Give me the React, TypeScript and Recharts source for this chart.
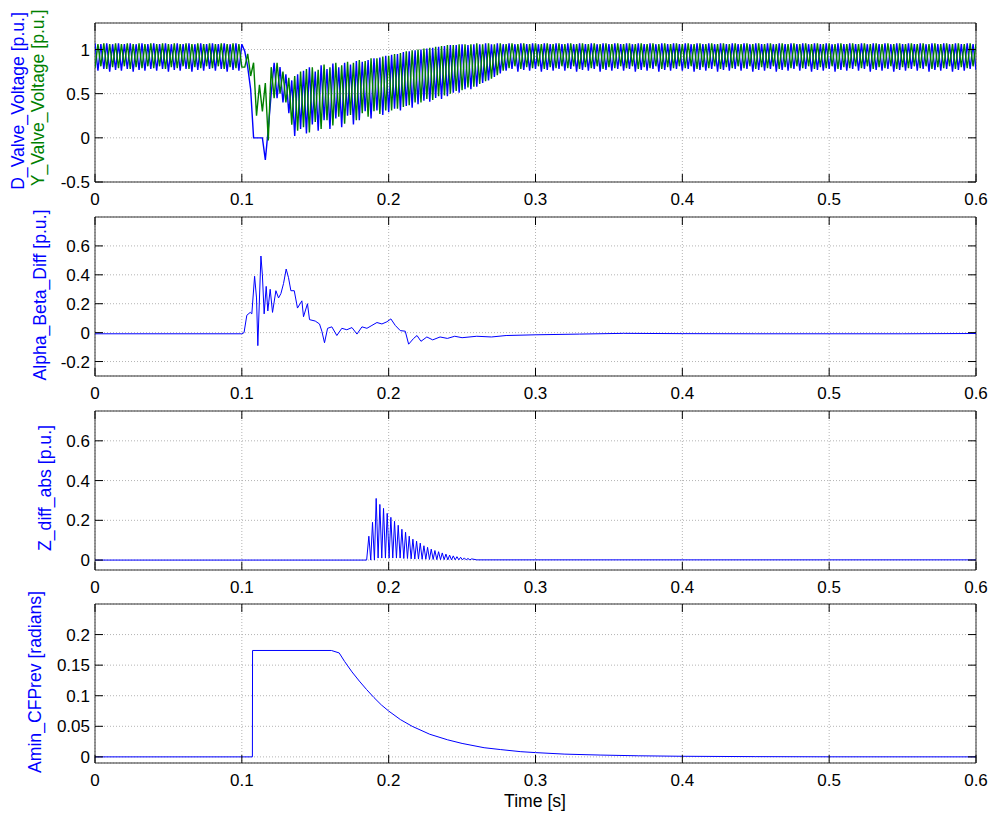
import React from 'react';
import { LineChart, Line, XAxis, YAxis, CartesianGrid, ReferenceArea } from 'recharts';

// ---- data ----
const X_TICKS = [0, 0.1, 0.2, 0.3, 0.4, 0.5, 0.6];

// valve voltages, one sample every 2 ms from t = 0
const VALVE_DT = 0.002;
const D_VALVE = [
  1.07, 0.76, 1.06, 0.78, 1.07, 0.75, 1.06, 0.77, 1.07, 0.76,
  1.06, 0.78, 1.07, 0.75, 1.06, 0.77, 1.07, 0.76, 1.06, 0.78,
  1.07, 0.76, 1.06, 0.78, 1.07, 0.75, 1.06, 0.77, 1.07, 0.76,
  1.06, 0.78, 1.07, 0.75, 1.06, 0.77, 1.07, 0.76, 1.06, 0.78,
  1.07, 0.76, 1.06, 0.78, 1.07, 0.75, 1.06, 0.77, 1.07, 0.76,
  1.06, 0.98, 0.8, 0.55, 0.0, 0.0, 0.0, 0.0, -0.25, 0.1,
  0.5, 0.85, 0.45, 0.8, 0.4, 0.72, 0.28, 0.65, 0.02, 0.72,
  0.1, 0.76, 0.05, 0.8, 0.15, 0.75, 0.08, 0.82, 0.2, 0.78,
  0.1, 0.84, 0.22, 0.8, 0.12, 0.85, 0.25, 0.83, 0.15, 0.87,
  0.2, 0.86, 0.3, 0.88, 0.22, 0.9, 0.31, 0.91, 0.26, 0.93,
  0.29, 0.94, 0.33, 0.95, 0.31, 0.97, 0.36, 0.98, 0.34, 0.99,
  0.38, 1.0, 0.42, 1.01, 0.41, 1.02, 0.45, 1.03, 0.44, 1.04,
  0.47, 1.05, 0.51, 1.05, 0.51, 1.06, 0.55, 1.05, 0.55, 1.06,
  0.58, 1.06, 0.62, 1.07, 0.65, 1.06, 0.69, 1.07, 0.73, 1.06,
  0.76, 1.07, 0.78, 1.06, 0.75, 1.07, 0.77, 1.06, 0.76, 1.07,
  0.78, 1.06, 0.75, 1.07, 0.77, 1.06, 0.76, 1.07, 0.78, 1.06,
  0.76, 1.07, 0.78, 1.06, 0.75, 1.07, 0.77, 1.06, 0.76, 1.07,
  0.78, 1.06, 0.75, 1.07, 0.77, 1.06, 0.76, 1.07, 0.78, 1.06,
  0.76, 1.07, 0.78, 1.06, 0.75, 1.07, 0.77, 1.06, 0.76, 1.07,
  0.78, 1.06, 0.75, 1.07, 0.77, 1.06, 0.76, 1.07, 0.78, 1.06,
  0.76, 1.07, 0.78, 1.06, 0.75, 1.07, 0.77, 1.06, 0.76, 1.07,
  0.78, 1.06, 0.75, 1.07, 0.77, 1.06, 0.76, 1.07, 0.78, 1.06,
  0.76, 1.07, 0.78, 1.06, 0.75, 1.07, 0.77, 1.06, 0.76, 1.07,
  0.78, 1.06, 0.75, 1.07, 0.77, 1.06, 0.76, 1.07, 0.78, 1.06,
  0.76, 1.07, 0.78, 1.06, 0.75, 1.07, 0.77, 1.06, 0.76, 1.07,
  0.78, 1.06, 0.75, 1.07, 0.77, 1.06, 0.76, 1.07, 0.78, 1.06,
  0.76, 1.07, 0.78, 1.06, 0.75, 1.07, 0.77, 1.06, 0.76, 1.07,
  0.78, 1.06, 0.75, 1.07, 0.77, 1.06, 0.76, 1.07, 0.78, 1.06,
  0.76, 1.07, 0.78, 1.06, 0.75, 1.07, 0.77, 1.06, 0.76, 1.07,
  0.78, 1.06, 0.75, 1.07, 0.77, 1.06, 0.76, 1.07, 0.78, 1.06,
  0.77,
];
const Y_VALVE = [
  0.79, 1.06, 0.81, 1.07, 0.78, 1.06, 0.8, 1.07, 0.79, 1.06,
  0.81, 1.07, 0.78, 1.06, 0.8, 1.07, 0.79, 1.06, 0.81, 1.07,
  0.79, 1.06, 0.81, 1.07, 0.78, 1.06, 0.8, 1.07, 0.79, 1.06,
  0.81, 1.07, 0.78, 1.06, 0.8, 1.07, 0.79, 1.06, 0.81, 1.07,
  0.79, 1.06, 0.81, 1.07, 0.78, 1.06, 0.8, 1.07, 0.79, 1.06,
  0.8, 0.8, 0.95, 0.7, 0.85, 0.25, 0.6, 0.3, 0.62, -0.03,
  0.8, 0.45, 0.85, 0.5, 0.75, 0.4, 0.68, 0.15, 0.7, 0.08,
  0.75, 0.12, 0.78, 0.06, 0.8, 0.18, 0.77, 0.1, 0.83, 0.2,
  0.8, 0.14, 0.85, 0.24, 0.82, 0.16, 0.86, 0.26, 0.85, 0.2,
  0.88, 0.28, 0.87, 0.24, 0.9, 0.3, 0.9, 0.27, 0.92, 0.31,
  0.93, 0.31, 0.95, 0.33, 0.96, 0.35, 0.98, 0.37, 0.99, 0.4,
  1.0, 0.4, 1.01, 0.44, 1.02, 0.43, 1.03, 0.47, 1.04, 0.48,
  1.05, 0.5, 1.05, 0.53, 1.06, 0.54, 1.06, 0.57, 1.06, 0.58,
  1.07, 0.61, 1.06, 0.64, 1.07, 0.67, 1.06, 0.71, 1.07, 0.76,
  1.06, 0.79, 1.07, 0.81, 1.06, 0.78, 1.07, 0.8, 1.06, 0.79,
  1.07, 0.81, 1.06, 0.78, 1.07, 0.8, 1.06, 0.79, 1.07, 0.81,
  1.06, 0.79, 1.07, 0.81, 1.06, 0.78, 1.07, 0.8, 1.06, 0.79,
  1.07, 0.81, 1.06, 0.78, 1.07, 0.8, 1.06, 0.79, 1.07, 0.81,
  1.06, 0.79, 1.07, 0.81, 1.06, 0.78, 1.07, 0.8, 1.06, 0.79,
  1.07, 0.81, 1.06, 0.78, 1.07, 0.8, 1.06, 0.79, 1.07, 0.81,
  1.06, 0.79, 1.07, 0.81, 1.06, 0.78, 1.07, 0.8, 1.06, 0.79,
  1.07, 0.81, 1.06, 0.78, 1.07, 0.8, 1.06, 0.79, 1.07, 0.81,
  1.06, 0.79, 1.07, 0.81, 1.06, 0.78, 1.07, 0.8, 1.06, 0.79,
  1.07, 0.81, 1.06, 0.78, 1.07, 0.8, 1.06, 0.79, 1.07, 0.81,
  1.06, 0.79, 1.07, 0.81, 1.06, 0.78, 1.07, 0.8, 1.06, 0.79,
  1.07, 0.81, 1.06, 0.78, 1.07, 0.8, 1.06, 0.79, 1.07, 0.81,
  1.06, 0.79, 1.07, 0.81, 1.06, 0.78, 1.07, 0.8, 1.06, 0.79,
  1.07, 0.81, 1.06, 0.78, 1.07, 0.8, 1.06, 0.79, 1.07, 0.81,
  1.06, 0.79, 1.07, 0.81, 1.06, 0.78, 1.07, 0.8, 1.06, 0.79,
  1.07, 0.81, 1.06, 0.78, 1.07, 0.8, 1.06, 0.79, 1.07, 0.81,
  1.06,
];

const AB_T = [
  0, 0.1, 0.1015, 0.1034, 0.1057, 0.1068, 0.1087, 0.11, 0.1109, 0.113,
  0.114, 0.1152, 0.1166, 0.1177, 0.1193, 0.1209, 0.1232, 0.125, 0.1266, 0.1284,
  0.1302, 0.1318, 0.1334, 0.1357, 0.1379, 0.1409, 0.142, 0.1447, 0.1461, 0.15,
  0.1529, 0.1545, 0.1563, 0.1584, 0.1613, 0.1647, 0.1681, 0.1715, 0.175, 0.1784,
  0.1818, 0.1852, 0.1886, 0.192, 0.1954, 0.1988, 0.2015, 0.2045, 0.2079, 0.2113,
  0.2136, 0.217, 0.2193, 0.222, 0.226, 0.23, 0.235, 0.24, 0.245, 0.25,
  0.26, 0.27, 0.28, 0.3, 0.33, 0.36, 0.4, 0.45, 0.5, 0.55,
  0.6,
];
const AB_V = [
  -0.008, -0.008, 0.0, 0.12, 0.14, 0.13, 0.39, 0.24, -0.09, 0.53,
  0.4, 0.13, 0.32, 0.15, 0.3, 0.14, 0.29, 0.24, 0.27, 0.34,
  0.44, 0.38, 0.29, 0.29, 0.17, 0.22, 0.11, 0.2, 0.09, 0.08,
  0.06, 0.01, -0.07, 0.03, 0.04, -0.02, 0.03, 0.02, 0.035, -0.01,
  0.04, 0.03, 0.05, 0.07, 0.06, 0.075, 0.095, 0.05, 0.014, 0.01,
  -0.08, -0.04, -0.02, -0.06, -0.03, -0.05, -0.03, -0.04, -0.025, -0.035,
  -0.025, -0.03, -0.02, -0.015, -0.01, -0.005, -0.007, -0.008, -0.008, -0.008,
  -0.006,
];

// Z_diff_abs: peaks and the dips back to zero between them
const Z_T = [
  0, 0.185, 0.1865, 0.1878, 0.189, 0.1903, 0.1915, 0.1928, 0.194, 0.1953,
  0.1965, 0.1978, 0.199, 0.2003, 0.2015, 0.2028, 0.204, 0.2053, 0.2065, 0.2078,
  0.209, 0.2103, 0.2115, 0.2128, 0.214, 0.2153, 0.2165, 0.2178, 0.219, 0.2203,
  0.2215, 0.2228, 0.224, 0.2253, 0.2265, 0.2278, 0.229, 0.2303, 0.2315, 0.2328,
  0.234, 0.2353, 0.2365, 0.2378, 0.239, 0.2403, 0.2415, 0.2428, 0.244, 0.2453,
  0.2465, 0.2478, 0.249, 0.2503, 0.2515, 0.2528, 0.254, 0.2553, 0.2565, 0.26,
  0.6,
];
const Z_V = [
  0, 0, 0.12, 0, 0.19, 0, 0.31, 0.01, 0.28, 0.01,
  0.26, 0.01, 0.235, 0.01, 0.215, 0.01, 0.195, 0.01, 0.175, 0.01,
  0.155, 0.008, 0.14, 0.008, 0.12, 0.006, 0.105, 0.005, 0.095, 0.005,
  0.085, 0.004, 0.072, 0.004, 0.064, 0.003, 0.055, 0.003, 0.048, 0.002,
  0.042, 0.002, 0.036, 0.002, 0.03, 0.001, 0.025, 0.001, 0.021, 0.001,
  0.017, 0.001, 0.014, 0.001, 0.011, 0.001, 0.008, 0.001, 0.006, 0.001,
  0.001,
];

const AMIN_T = [
  0, 0.1072, 0.1073, 0.161, 0.1663, 0.17, 0.175, 0.18, 0.185, 0.19,
  0.195, 0.2, 0.208, 0.216, 0.228, 0.24, 0.25, 0.265, 0.276, 0.29,
  0.3, 0.32, 0.344, 0.37, 0.4, 0.45, 0.5, 0.6,
];
const AMIN_V = [
  0, 0, 0.174, 0.174, 0.17, 0.156, 0.139, 0.124, 0.11, 0.097,
  0.085, 0.075, 0.061, 0.05, 0.037, 0.028, 0.022, 0.015, 0.012, 0.0085,
  0.007, 0.0045, 0.003, 0.0018, 0.001, 0.0004, 0.0001, 0,
];

// ---- layout ----
const W = 992;
const PLOT_LEFT = 95;
const RIGHT_M = 16;
const PLOT_RIGHT = W - RIGHT_M;
const PLOT_H = 159;
const M_TOP = 10;
const X_AXIS_H = 40;
const TICK_LEN = 8;
const TICK_FS = 17;
const FONT = '"Liberation Sans", Arial, Helvetica, sans-serif';
const BLUE = '#0000ff';
const GREEN = '#008000';

const valveData = D_VALVE.map((d, i) => ({ t: +(i * VALVE_DT).toFixed(4), d, y: Y_VALVE[i] }));
const abData = AB_T.map((t, i) => ({ t, v: AB_V[i] }));
const zData = Z_T.map((t, i) => ({ t, v: Z_V[i] }));
const aminData = AMIN_T.map((t, i) => ({ t, v: AMIN_V[i] }));

const renderXTick = (props: any) => {
  const { x, payload } = props;
  const bottom = M_TOP + PLOT_H;
  return (
    <g>
      <line x1={x} x2={x} y1={bottom} y2={bottom - TICK_LEN} stroke="#000" />
      <line x1={x} x2={x} y1={M_TOP} y2={M_TOP + TICK_LEN} stroke="#000" />
      <text x={x} y={bottom + 22.5} textAnchor="middle" fontSize={TICK_FS} fontFamily={FONT} fill="#000">
        {String(payload.value)}
      </text>
    </g>
  );
};

const renderYTick = (props: any) => {
  const { y, payload } = props;
  return (
    <g>
      <line x1={PLOT_LEFT} x2={PLOT_LEFT + TICK_LEN} y1={y} y2={y} stroke="#000" />
      <line x1={PLOT_RIGHT - TICK_LEN} x2={PLOT_RIGHT} y1={y} y2={y} stroke="#000" />
      <text x={PLOT_LEFT - 5} y={y + 6} textAnchor="end" fontSize={TICK_FS} fontFamily={FONT} fill="#000">
        {String(payload.value)}
      </text>
    </g>
  );
};

interface PanelProps {
  top: number;
  data: any[];
  keys: { key: string; color: string; width?: number }[];
  domain: [number, number];
  ticks: number[];
}

function Panel({ top, data, keys, domain, ticks }: PanelProps) {
  return (
    <div style={{ position: 'absolute', left: 0, top: top - M_TOP }}>
      <LineChart
        width={W}
        height={PLOT_H + M_TOP + X_AXIS_H}
        data={data}
        margin={{ top: M_TOP, right: RIGHT_M, bottom: 0, left: 0 }}
      >
        <CartesianGrid stroke="#b4b4b4" strokeDasharray="1 2" />
        <XAxis
          dataKey="t"
          type="number"
          domain={[0, 0.6]}
          ticks={X_TICKS}
          interval={0}
          height={X_AXIS_H}
          axisLine={false}
          tickLine={false}
          tick={renderXTick}
          allowDataOverflow
        />
        <YAxis
          type="number"
          domain={domain}
          ticks={ticks}
          interval={0}
          width={PLOT_LEFT}
          axisLine={false}
          tickLine={false}
          tick={renderYTick}
          allowDataOverflow
        />
        {keys.map((k) => (
          <Line
            key={k.key}
            dataKey={k.key}
            type="linear"
            stroke={k.color}
            strokeWidth={k.width ?? 1}
            dot={false}
            isAnimationActive={false}
          />
        ))}
        <ReferenceArea x1={0} x2={0.6} y1={domain[0]} y2={domain[1]} fill="none" stroke="#333" strokeWidth={1} ifOverflow="visible" />
      </LineChart>
    </div>
  );
}

export default function App() {
  return (
    <div style={{ position: 'absolute', left: 0, top: 0, width: W, height: 814, background: '#fff', fontFamily: FONT }}>
      <Panel
        top={23}
        data={valveData}
        keys={[{ key: 'd', color: BLUE, width: 1.4 }, { key: 'y', color: GREEN, width: 1.4 }]}
        domain={[-0.5, 1.3]}
        ticks={[-0.5, 0, 0.5, 1]}
      />
      <Panel top={217} data={abData} keys={[{ key: 'v', color: BLUE }]} domain={[-0.3, 0.8]} ticks={[-0.2, 0, 0.2, 0.4, 0.6]} />
      <Panel top={411} data={zData} keys={[{ key: 'v', color: BLUE }]} domain={[-0.05, 0.75]} ticks={[0, 0.2, 0.4, 0.6]} />
      <Panel top={604} data={aminData} keys={[{ key: 'v', color: BLUE }]} domain={[-0.01, 0.25]} ticks={[0, 0.05, 0.1, 0.15, 0.2]} />
      <svg width={W} height={814} style={{ position: 'absolute', left: 0, top: 0, pointerEvents: 'none' }}>
        <g fontFamily={FONT} fontSize={17.6} textAnchor="middle">
          <text x={24} y={101} transform="rotate(-90 24 101)" fill={BLUE}>D_Valve_Voltage [p.u.]</text>
          <text x={44} y={98} transform="rotate(-90 44 98)" fill={GREEN}>Y_Valve_Voltage [p.u.]</text>
          <text x={45.5} y={295} transform="rotate(-90 45.5 295)" fill={BLUE}>Alpha_Beta_Diff [p.u.]</text>
          <text x={51} y={488} transform="rotate(-90 51 488)" fill={BLUE}>Z_diff_abs [p.u.]</text>
          <text x={41} y={682} transform="rotate(-90 41 682)" fill={BLUE}>Amin_CFPrev [radians]</text>
          <text x={535} y={807} fill="#000">Time [s]</text>
        </g>
      </svg>
    </div>
  );
}
